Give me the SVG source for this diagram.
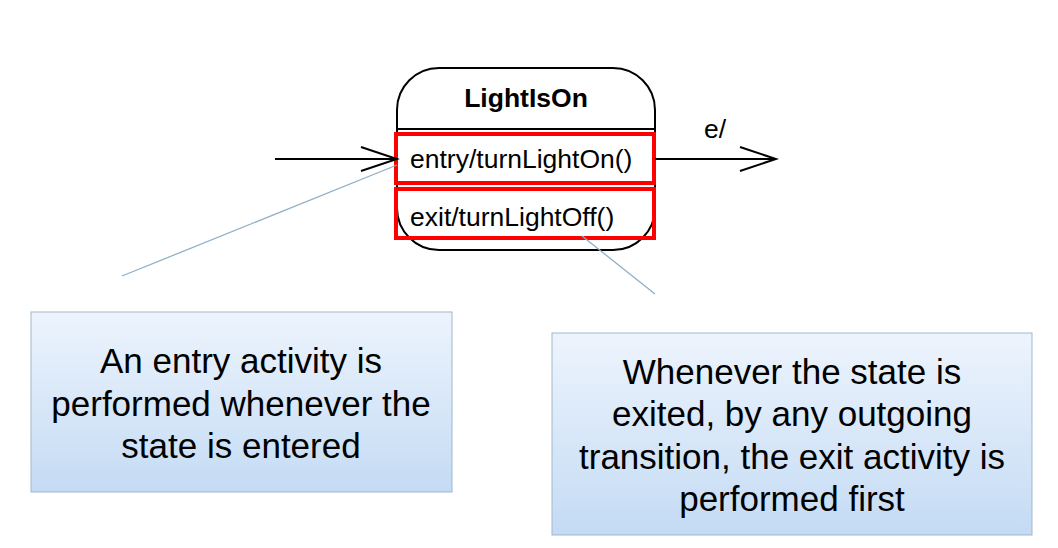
<svg xmlns="http://www.w3.org/2000/svg" width="1058" height="548" viewBox="0 0 1058 548">
<style>
text{font-family:"Liberation Sans",Arial,sans-serif;fill:#000}
.t{font-size:26.5px}
.n{font-size:35px;text-anchor:middle}
.red{fill:none;stroke:#ff0000;stroke-width:4}
.note{fill:url(#g);stroke:#9fb7cc;stroke-width:1}
.lead{stroke:#8fb0c8;stroke-width:1.3;fill:none}
.conn{stroke:#000;stroke-width:2;fill:none}
</style>
<defs>
<linearGradient id="g" x1="0" y1="0" x2="0" y2="1">
<stop offset="0" stop-color="#edf4fd"/>
<stop offset="1" stop-color="#c4dbf4"/>
</linearGradient>
<marker id="open" markerWidth="40" markerHeight="28" refX="37" refY="13" orient="auto" markerUnits="userSpaceOnUse">
<path d="M1,1 L37,13 L1,25" fill="none" stroke="#000" stroke-width="2"/>
</marker>
</defs>
<rect width="1058" height="548" fill="#fff"/>
<g id="state">
<rect x="397" y="68" width="258" height="182" rx="42" ry="42" fill="#fff" stroke="#000" stroke-width="2"/>
<line x1="397" y1="129" x2="655" y2="129" stroke="#000" stroke-width="2"/>
<text x="526" y="107" font-size="26.5" font-weight="bold" text-anchor="middle">LightIsOn</text>
</g>
<g id="entry">
<rect class="red" x="396" y="134" width="258" height="49" fill="#fff"/>
<text class="t" x="410" y="168">entry/turnLightOn()</text>
</g>
<g id="exit">
<rect class="red" x="396" y="189" width="258" height="49"/>
<text class="t" x="410" y="226">exit/turnLightOff()</text>
</g>
<g id="connectors">
<line class="conn" x1="275" y1="159" x2="397" y2="159" marker-end="url(#open)"/>
<line class="conn" x1="655" y1="159" x2="776" y2="159" marker-end="url(#open)"/>
<text class="t" x="704" y="138">e/</text>
<line class="lead" x1="397" y1="165" x2="122" y2="276"/>
<line class="lead" x1="582" y1="236" x2="655" y2="294"/>
</g>
<g id="note1">
<rect class="note" x="31" y="312" width="421" height="180"/>
<text class="n" x="241" y="373">An entry activity is</text>
<text class="n" x="241" y="416">performed whenever the</text>
<text class="n" x="241" y="458">state is entered</text>
</g>
<g id="note2">
<rect class="note" x="552" y="333" width="480" height="202"/>
<text class="n" x="792" y="384">Whenever the state is</text>
<text class="n" x="792" y="426">exited, by any outgoing</text>
<text class="n" x="792" y="469">transition, the exit activity is</text>
<text class="n" x="792" y="511">performed first</text>
</g>
</svg>
